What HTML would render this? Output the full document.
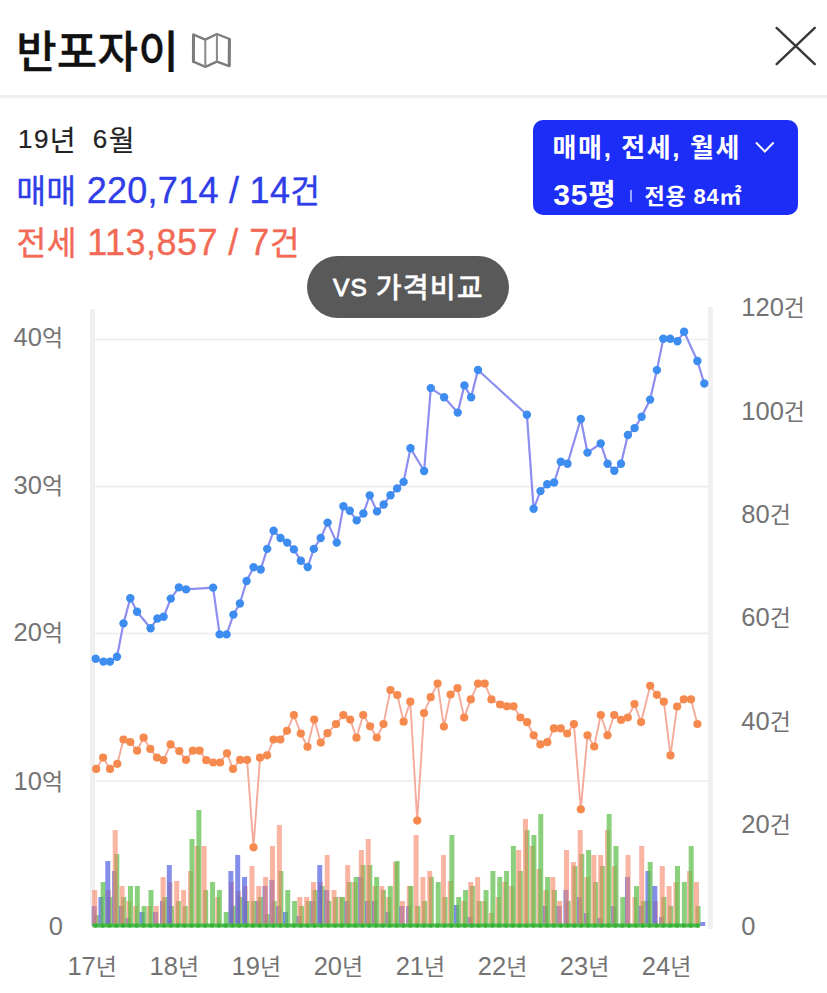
<!DOCTYPE html>
<html lang="ko"><head><meta charset="utf-8"><title>반포자이</title>
<style>
html,body{margin:0;padding:0;background:#fff;}
body{width:827px;height:993px;overflow:hidden;position:relative;font-family:"Liberation Sans","Noto Sans CJK KR",sans-serif;}
.a{position:absolute;white-space:nowrap;}
.sep{left:0;top:94.5px;width:827px;height:3px;background:#efefef;}
.box{left:532.5px;top:120px;width:265.8px;height:95.3px;border-radius:10px;background:#1c2df7;}
.bsep{left:630px;top:189.5px;width:2px;height:12px;background:#9aa3ff;}
.pill{left:307.2px;top:256px;width:202px;height:62.3px;border-radius:31px;background:#595959;}
.yl{position:absolute;right:764px;font-size:25.5px;line-height:24px;color:#737373;white-space:nowrap;-webkit-text-stroke:0px #737373;}
.yr{position:absolute;left:741.3px;font-size:25.5px;line-height:24px;color:#737373;white-space:nowrap;-webkit-text-stroke:0px #737373;}
.xl{position:absolute;top:954px;width:80px;text-align:center;font-size:25.5px;line-height:24px;color:#737373;white-space:nowrap;-webkit-text-stroke:0px #737373;}
svg{position:absolute;left:0;top:0;}
.h{font-size:0.9em;}
</style></head><body>
<div class="a" style="left:16.20px;top:21.60px;font-size:44px;line-height:55px;color:#111;font-weight:500;letter-spacing:0.20px;word-spacing:0.00px;font-family:'Noto Sans CJK KR','Liberation Sans',sans-serif;-webkit-text-stroke:0.3px #111;">반포자이</div>
<svg width="827" height="110" viewBox="0 0 827 110">
<path d="M193.6 34.6 L205.3 39.6 L216.9 34 L229.5 39 L229.2 66.2 L216.9 61.6 L205.3 66.9 L193.3 61.6 Z" fill="none" stroke="#7c7c7c" stroke-width="2.3" stroke-linejoin="round"/>
<path d="M193.5 35 L193.4 61.4 M229.4 39.5 L229.2 65.8" fill="none" stroke="#7c7c7c" stroke-width="3" stroke-linecap="round"/>
<path d="M205.3 39.6 L205.3 66.9 M216.9 34 L216.9 61.6" fill="none" stroke="#8a8a8a" stroke-width="2"/>
<path d="M776.6 27.9 L814.8 64.1 M814.8 27.9 L776.6 64.1" stroke="#383838" stroke-width="2.4" stroke-linecap="round" fill="none"/>
</svg>
<div class="a sep"></div>
<div class="a" style="left:18.00px;top:123.00px;font-size:26px;line-height:32px;color:#222;font-weight:400;letter-spacing:1.44px;word-spacing:7.00px;font-family:'Liberation Sans','Noto Sans CJK KR',sans-serif;-webkit-text-stroke:0.2px #222;">19<span style="font-size:28.08px;position:relative;top:3.3px">년</span> 6<span style="font-size:28.08px;position:relative;top:3.3px">월</span></div>
<div class="a" style="left:16.20px;top:168.20px;font-size:36px;line-height:45px;color:#2f3de8;font-weight:400;letter-spacing:0.28px;word-spacing:0.00px;font-family:'Liberation Sans','Noto Sans CJK KR',sans-serif;-webkit-text-stroke:0.35px #2f3de8;"><span style="font-size:32.40px;position:relative;top:0px">매매</span> 220,714 / 14<span style="font-size:32.40px;position:relative;top:0px">건</span></div>
<div class="a" style="left:16.40px;top:219.80px;font-size:36px;line-height:45px;color:#f26a55;font-weight:400;letter-spacing:0.44px;word-spacing:0.00px;font-family:'Liberation Sans','Noto Sans CJK KR',sans-serif;-webkit-text-stroke:0.35px #f26a55;"><span style="font-size:32.40px;position:relative;top:0px">전세</span> 113,857 / 7<span style="font-size:32.40px;position:relative;top:0px">건</span></div>
<div class="a box"></div>
<div class="a" style="left:552.60px;top:132.20px;font-size:26px;line-height:32px;color:#fff;font-weight:700;letter-spacing:1.60px;word-spacing:0.00px;font-family:'Liberation Sans','Noto Sans CJK KR',sans-serif;">매매, 전세, 월세</div>
<svg width="827" height="300" viewBox="0 0 827 300"><path d="M756 142.5 L764.8 151.5 L773.6 142.5" stroke="#fff" stroke-width="2" fill="none"/></svg>
<div class="a" style="left:553.20px;top:175.60px;font-size:30px;line-height:38px;color:#fff;font-weight:700;letter-spacing:0.80px;word-spacing:0.00px;font-family:'Liberation Sans','Noto Sans CJK KR',sans-serif;">35평</div>
<div class="a bsep"></div>
<div class="a" style="left:644.40px;top:183.20px;font-size:22px;line-height:28px;color:#fff;font-weight:700;letter-spacing:0.80px;word-spacing:0.00px;font-family:'Liberation Sans','Noto Sans CJK KR',sans-serif;">전용 84㎡</div>
<svg width="827" height="993" viewBox="0 0 827 993">
<rect x="90" y="309" width="5" height="597" fill="#f0f0f0"/><rect x="708" y="307" width="5" height="622" fill="#f0f0f0"/><rect x="95" y="338.5" width="613.5" height="2" fill="#f0f0f0"/><rect x="95" y="485.5" width="613.5" height="2" fill="#f0f0f0"/><rect x="95" y="632.5" width="613.5" height="2" fill="#f0f0f0"/><rect x="95" y="780.0" width="613.5" height="2" fill="#f0f0f0"/><rect x="93.80" y="915" width="5.0" height="11" fill="rgb(90,190,70)" fill-opacity="0.7"/><rect x="91.60" y="906" width="5.0" height="20" fill="rgb(80,95,225)" fill-opacity="0.7"/><rect x="92.20" y="890" width="5.0" height="36" fill="rgb(245,130,100)" fill-opacity="0.6"/><rect x="98.44" y="897" width="5.0" height="29" fill="rgb(80,95,225)" fill-opacity="0.7"/><rect x="100.64" y="882" width="5.0" height="44" fill="rgb(90,190,70)" fill-opacity="0.7"/><rect x="107.48" y="897" width="5.0" height="29" fill="rgb(90,190,70)" fill-opacity="0.7"/><rect x="105.88" y="890" width="5.0" height="36" fill="rgb(245,130,100)" fill-opacity="0.6"/><rect x="105.28" y="861" width="5.0" height="65" fill="rgb(80,95,225)" fill-opacity="0.7"/><rect x="112.11" y="871" width="5.0" height="55" fill="rgb(80,95,225)" fill-opacity="0.7"/><rect x="114.31" y="854" width="5.0" height="72" fill="rgb(90,190,70)" fill-opacity="0.7"/><rect x="112.71" y="830" width="5.0" height="96" fill="rgb(245,130,100)" fill-opacity="0.6"/><rect x="118.95" y="906" width="5.0" height="20" fill="rgb(80,95,225)" fill-opacity="0.7"/><rect x="121.15" y="897" width="5.0" height="29" fill="rgb(90,190,70)" fill-opacity="0.7"/><rect x="119.55" y="886" width="5.0" height="40" fill="rgb(245,130,100)" fill-opacity="0.6"/><rect x="125.79" y="918" width="5.0" height="8" fill="rgb(80,95,225)" fill-opacity="0.7"/><rect x="126.39" y="901" width="5.0" height="25" fill="rgb(245,130,100)" fill-opacity="0.6"/><rect x="127.99" y="886" width="5.0" height="40" fill="rgb(90,190,70)" fill-opacity="0.7"/><rect x="133.23" y="906" width="5.0" height="20" fill="rgb(245,130,100)" fill-opacity="0.6"/><rect x="134.83" y="886" width="5.0" height="40" fill="rgb(90,190,70)" fill-opacity="0.7"/><rect x="139.47" y="912" width="5.0" height="14" fill="rgb(80,95,225)" fill-opacity="0.7"/><rect x="141.67" y="906" width="5.0" height="20" fill="rgb(90,190,70)" fill-opacity="0.7"/><rect x="146.90" y="906" width="5.0" height="20" fill="rgb(245,130,100)" fill-opacity="0.6"/><rect x="148.50" y="890" width="5.0" height="36" fill="rgb(90,190,70)" fill-opacity="0.7"/><rect x="153.14" y="912" width="5.0" height="14" fill="rgb(80,95,225)" fill-opacity="0.7"/><rect x="153.74" y="906" width="5.0" height="20" fill="rgb(245,130,100)" fill-opacity="0.6"/><rect x="159.98" y="901" width="5.0" height="25" fill="rgb(80,95,225)" fill-opacity="0.7"/><rect x="162.18" y="897" width="5.0" height="29" fill="rgb(90,190,70)" fill-opacity="0.7"/><rect x="160.58" y="877" width="5.0" height="49" fill="rgb(245,130,100)" fill-opacity="0.6"/><rect x="169.02" y="906" width="5.0" height="20" fill="rgb(90,190,70)" fill-opacity="0.7"/><rect x="167.42" y="882" width="5.0" height="44" fill="rgb(245,130,100)" fill-opacity="0.6"/><rect x="166.82" y="865" width="5.0" height="61" fill="rgb(80,95,225)" fill-opacity="0.7"/><rect x="175.86" y="901" width="5.0" height="25" fill="rgb(90,190,70)" fill-opacity="0.7"/><rect x="174.26" y="881" width="5.0" height="45" fill="rgb(245,130,100)" fill-opacity="0.6"/><rect x="182.69" y="906" width="5.0" height="20" fill="rgb(90,190,70)" fill-opacity="0.7"/><rect x="181.09" y="890" width="5.0" height="36" fill="rgb(245,130,100)" fill-opacity="0.6"/><rect x="187.93" y="871" width="5.0" height="55" fill="rgb(245,130,100)" fill-opacity="0.6"/><rect x="189.53" y="839" width="5.0" height="87" fill="rgb(90,190,70)" fill-opacity="0.7"/><rect x="194.77" y="846" width="5.0" height="80" fill="rgb(245,130,100)" fill-opacity="0.6"/><rect x="196.37" y="810" width="5.0" height="116" fill="rgb(90,190,70)" fill-opacity="0.7"/><rect x="203.21" y="890" width="5.0" height="36" fill="rgb(90,190,70)" fill-opacity="0.7"/><rect x="201.61" y="846" width="5.0" height="80" fill="rgb(245,130,100)" fill-opacity="0.6"/><rect x="210.05" y="882" width="5.0" height="44" fill="rgb(90,190,70)" fill-opacity="0.7"/><rect x="215.28" y="897" width="5.0" height="29" fill="rgb(245,130,100)" fill-opacity="0.6"/><rect x="216.88" y="890" width="5.0" height="36" fill="rgb(90,190,70)" fill-opacity="0.7"/><rect x="223.72" y="912" width="5.0" height="14" fill="rgb(90,190,70)" fill-opacity="0.7"/><rect x="230.56" y="906" width="5.0" height="20" fill="rgb(90,190,70)" fill-opacity="0.7"/><rect x="228.96" y="882" width="5.0" height="44" fill="rgb(245,130,100)" fill-opacity="0.6"/><rect x="228.36" y="871" width="5.0" height="55" fill="rgb(80,95,225)" fill-opacity="0.7"/><rect x="237.40" y="897" width="5.0" height="29" fill="rgb(90,190,70)" fill-opacity="0.7"/><rect x="235.80" y="891" width="5.0" height="35" fill="rgb(245,130,100)" fill-opacity="0.6"/><rect x="235.20" y="855" width="5.0" height="71" fill="rgb(80,95,225)" fill-opacity="0.7"/><rect x="244.24" y="901" width="5.0" height="25" fill="rgb(90,190,70)" fill-opacity="0.7"/><rect x="242.64" y="886" width="5.0" height="40" fill="rgb(245,130,100)" fill-opacity="0.6"/><rect x="242.04" y="877" width="5.0" height="49" fill="rgb(80,95,225)" fill-opacity="0.7"/><rect x="251.07" y="901" width="5.0" height="25" fill="rgb(90,190,70)" fill-opacity="0.7"/><rect x="249.47" y="866" width="5.0" height="60" fill="rgb(245,130,100)" fill-opacity="0.6"/><rect x="255.71" y="901" width="5.0" height="25" fill="rgb(80,95,225)" fill-opacity="0.7"/><rect x="257.91" y="897" width="5.0" height="29" fill="rgb(90,190,70)" fill-opacity="0.7"/><rect x="256.31" y="886" width="5.0" height="40" fill="rgb(245,130,100)" fill-opacity="0.6"/><rect x="264.75" y="914" width="5.0" height="12" fill="rgb(90,190,70)" fill-opacity="0.7"/><rect x="262.55" y="886" width="5.0" height="40" fill="rgb(80,95,225)" fill-opacity="0.7"/><rect x="263.15" y="877" width="5.0" height="49" fill="rgb(245,130,100)" fill-opacity="0.6"/><rect x="271.59" y="901" width="5.0" height="25" fill="rgb(90,190,70)" fill-opacity="0.7"/><rect x="269.39" y="880" width="5.0" height="46" fill="rgb(80,95,225)" fill-opacity="0.7"/><rect x="269.99" y="846" width="5.0" height="80" fill="rgb(245,130,100)" fill-opacity="0.6"/><rect x="276.23" y="906" width="5.0" height="20" fill="rgb(80,95,225)" fill-opacity="0.7"/><rect x="278.43" y="871" width="5.0" height="55" fill="rgb(90,190,70)" fill-opacity="0.7"/><rect x="276.83" y="825" width="5.0" height="101" fill="rgb(245,130,100)" fill-opacity="0.6"/><rect x="283.06" y="912" width="5.0" height="14" fill="rgb(80,95,225)" fill-opacity="0.7"/><rect x="285.26" y="890" width="5.0" height="36" fill="rgb(90,190,70)" fill-opacity="0.7"/><rect x="292.10" y="901" width="5.0" height="25" fill="rgb(90,190,70)" fill-opacity="0.7"/><rect x="296.74" y="916" width="5.0" height="10" fill="rgb(80,95,225)" fill-opacity="0.7"/><rect x="298.94" y="906" width="5.0" height="20" fill="rgb(90,190,70)" fill-opacity="0.7"/><rect x="297.34" y="897" width="5.0" height="29" fill="rgb(245,130,100)" fill-opacity="0.6"/><rect x="305.78" y="901" width="5.0" height="25" fill="rgb(90,190,70)" fill-opacity="0.7"/><rect x="304.18" y="897" width="5.0" height="29" fill="rgb(245,130,100)" fill-opacity="0.6"/><rect x="310.42" y="901" width="5.0" height="25" fill="rgb(80,95,225)" fill-opacity="0.7"/><rect x="312.62" y="890" width="5.0" height="36" fill="rgb(90,190,70)" fill-opacity="0.7"/><rect x="311.02" y="882" width="5.0" height="44" fill="rgb(245,130,100)" fill-opacity="0.6"/><rect x="319.45" y="886" width="5.0" height="40" fill="rgb(90,190,70)" fill-opacity="0.7"/><rect x="317.85" y="882" width="5.0" height="44" fill="rgb(245,130,100)" fill-opacity="0.6"/><rect x="317.25" y="865" width="5.0" height="61" fill="rgb(80,95,225)" fill-opacity="0.7"/><rect x="326.29" y="901" width="5.0" height="25" fill="rgb(90,190,70)" fill-opacity="0.7"/><rect x="324.09" y="890" width="5.0" height="36" fill="rgb(80,95,225)" fill-opacity="0.7"/><rect x="324.69" y="855" width="5.0" height="71" fill="rgb(245,130,100)" fill-opacity="0.6"/><rect x="333.13" y="897" width="5.0" height="29" fill="rgb(90,190,70)" fill-opacity="0.7"/><rect x="331.53" y="890" width="5.0" height="36" fill="rgb(245,130,100)" fill-opacity="0.6"/><rect x="338.37" y="897" width="5.0" height="29" fill="rgb(245,130,100)" fill-opacity="0.6"/><rect x="339.97" y="897" width="5.0" height="29" fill="rgb(90,190,70)" fill-opacity="0.7"/><rect x="344.61" y="901" width="5.0" height="25" fill="rgb(80,95,225)" fill-opacity="0.7"/><rect x="346.81" y="882" width="5.0" height="44" fill="rgb(90,190,70)" fill-opacity="0.7"/><rect x="345.21" y="865" width="5.0" height="61" fill="rgb(245,130,100)" fill-opacity="0.6"/><rect x="352.04" y="882" width="5.0" height="44" fill="rgb(245,130,100)" fill-opacity="0.6"/><rect x="353.64" y="877" width="5.0" height="49" fill="rgb(90,190,70)" fill-opacity="0.7"/><rect x="358.28" y="877" width="5.0" height="49" fill="rgb(80,95,225)" fill-opacity="0.7"/><rect x="360.48" y="865" width="5.0" height="61" fill="rgb(90,190,70)" fill-opacity="0.7"/><rect x="358.88" y="850" width="5.0" height="76" fill="rgb(245,130,100)" fill-opacity="0.6"/><rect x="365.12" y="901" width="5.0" height="25" fill="rgb(80,95,225)" fill-opacity="0.7"/><rect x="367.32" y="865" width="5.0" height="61" fill="rgb(90,190,70)" fill-opacity="0.7"/><rect x="365.72" y="839" width="5.0" height="87" fill="rgb(245,130,100)" fill-opacity="0.6"/><rect x="371.96" y="901" width="5.0" height="25" fill="rgb(80,95,225)" fill-opacity="0.7"/><rect x="372.56" y="886" width="5.0" height="40" fill="rgb(245,130,100)" fill-opacity="0.6"/><rect x="374.16" y="877" width="5.0" height="49" fill="rgb(90,190,70)" fill-opacity="0.7"/><rect x="381.00" y="890" width="5.0" height="36" fill="rgb(90,190,70)" fill-opacity="0.7"/><rect x="379.40" y="886" width="5.0" height="40" fill="rgb(245,130,100)" fill-opacity="0.6"/><rect x="385.63" y="912" width="5.0" height="14" fill="rgb(80,95,225)" fill-opacity="0.7"/><rect x="386.23" y="897" width="5.0" height="29" fill="rgb(245,130,100)" fill-opacity="0.6"/><rect x="387.83" y="886" width="5.0" height="40" fill="rgb(90,190,70)" fill-opacity="0.7"/><rect x="393.07" y="862" width="5.0" height="64" fill="rgb(245,130,100)" fill-opacity="0.6"/><rect x="394.67" y="861" width="5.0" height="65" fill="rgb(90,190,70)" fill-opacity="0.7"/><rect x="399.31" y="906" width="5.0" height="20" fill="rgb(80,95,225)" fill-opacity="0.7"/><rect x="399.91" y="901" width="5.0" height="25" fill="rgb(245,130,100)" fill-opacity="0.6"/><rect x="406.15" y="906" width="5.0" height="20" fill="rgb(80,95,225)" fill-opacity="0.7"/><rect x="406.75" y="886" width="5.0" height="40" fill="rgb(245,130,100)" fill-opacity="0.6"/><rect x="408.35" y="886" width="5.0" height="40" fill="rgb(90,190,70)" fill-opacity="0.7"/><rect x="415.19" y="906" width="5.0" height="20" fill="rgb(90,190,70)" fill-opacity="0.7"/><rect x="413.59" y="835" width="5.0" height="91" fill="rgb(245,130,100)" fill-opacity="0.6"/><rect x="422.02" y="901" width="5.0" height="25" fill="rgb(90,190,70)" fill-opacity="0.7"/><rect x="420.42" y="877" width="5.0" height="49" fill="rgb(245,130,100)" fill-opacity="0.6"/><rect x="428.86" y="877" width="5.0" height="49" fill="rgb(90,190,70)" fill-opacity="0.7"/><rect x="427.26" y="871" width="5.0" height="55" fill="rgb(245,130,100)" fill-opacity="0.6"/><rect x="435.70" y="882" width="5.0" height="44" fill="rgb(90,190,70)" fill-opacity="0.7"/><rect x="442.54" y="897" width="5.0" height="29" fill="rgb(90,190,70)" fill-opacity="0.7"/><rect x="440.94" y="855" width="5.0" height="71" fill="rgb(245,130,100)" fill-opacity="0.6"/><rect x="447.78" y="881" width="5.0" height="45" fill="rgb(245,130,100)" fill-opacity="0.6"/><rect x="449.38" y="835" width="5.0" height="91" fill="rgb(90,190,70)" fill-opacity="0.7"/><rect x="454.01" y="905" width="5.0" height="21" fill="rgb(80,95,225)" fill-opacity="0.7"/><rect x="456.21" y="897" width="5.0" height="29" fill="rgb(90,190,70)" fill-opacity="0.7"/><rect x="461.45" y="901" width="5.0" height="25" fill="rgb(245,130,100)" fill-opacity="0.6"/><rect x="463.05" y="890" width="5.0" height="36" fill="rgb(90,190,70)" fill-opacity="0.7"/><rect x="467.69" y="917" width="5.0" height="9" fill="rgb(80,95,225)" fill-opacity="0.7"/><rect x="469.89" y="886" width="5.0" height="40" fill="rgb(90,190,70)" fill-opacity="0.7"/><rect x="468.29" y="882" width="5.0" height="44" fill="rgb(245,130,100)" fill-opacity="0.6"/><rect x="476.73" y="901" width="5.0" height="25" fill="rgb(90,190,70)" fill-opacity="0.7"/><rect x="475.13" y="877" width="5.0" height="49" fill="rgb(245,130,100)" fill-opacity="0.6"/><rect x="481.97" y="901" width="5.0" height="25" fill="rgb(245,130,100)" fill-opacity="0.6"/><rect x="483.57" y="890" width="5.0" height="36" fill="rgb(90,190,70)" fill-opacity="0.7"/><rect x="488.80" y="913" width="5.0" height="13" fill="rgb(245,130,100)" fill-opacity="0.6"/><rect x="490.40" y="871" width="5.0" height="55" fill="rgb(90,190,70)" fill-opacity="0.7"/><rect x="495.64" y="897" width="5.0" height="29" fill="rgb(245,130,100)" fill-opacity="0.6"/><rect x="497.24" y="877" width="5.0" height="49" fill="rgb(90,190,70)" fill-opacity="0.7"/><rect x="502.48" y="882" width="5.0" height="44" fill="rgb(245,130,100)" fill-opacity="0.6"/><rect x="504.08" y="871" width="5.0" height="55" fill="rgb(90,190,70)" fill-opacity="0.7"/><rect x="509.32" y="886" width="5.0" height="40" fill="rgb(245,130,100)" fill-opacity="0.6"/><rect x="510.92" y="846" width="5.0" height="80" fill="rgb(90,190,70)" fill-opacity="0.7"/><rect x="517.76" y="871" width="5.0" height="55" fill="rgb(90,190,70)" fill-opacity="0.7"/><rect x="516.16" y="850" width="5.0" height="76" fill="rgb(245,130,100)" fill-opacity="0.6"/><rect x="524.59" y="830" width="5.0" height="96" fill="rgb(90,190,70)" fill-opacity="0.7"/><rect x="522.99" y="819" width="5.0" height="107" fill="rgb(245,130,100)" fill-opacity="0.6"/><rect x="529.83" y="846" width="5.0" height="80" fill="rgb(245,130,100)" fill-opacity="0.6"/><rect x="531.43" y="835" width="5.0" height="91" fill="rgb(90,190,70)" fill-opacity="0.7"/><rect x="536.67" y="869" width="5.0" height="57" fill="rgb(245,130,100)" fill-opacity="0.6"/><rect x="538.27" y="814" width="5.0" height="112" fill="rgb(90,190,70)" fill-opacity="0.7"/><rect x="542.91" y="906" width="5.0" height="20" fill="rgb(80,95,225)" fill-opacity="0.7"/><rect x="543.51" y="890" width="5.0" height="36" fill="rgb(245,130,100)" fill-opacity="0.6"/><rect x="545.11" y="877" width="5.0" height="49" fill="rgb(90,190,70)" fill-opacity="0.7"/><rect x="551.95" y="890" width="5.0" height="36" fill="rgb(90,190,70)" fill-opacity="0.7"/><rect x="550.35" y="877" width="5.0" height="49" fill="rgb(245,130,100)" fill-opacity="0.6"/><rect x="556.58" y="906" width="5.0" height="20" fill="rgb(80,95,225)" fill-opacity="0.7"/><rect x="557.18" y="901" width="5.0" height="25" fill="rgb(245,130,100)" fill-opacity="0.6"/><rect x="565.62" y="901" width="5.0" height="25" fill="rgb(90,190,70)" fill-opacity="0.7"/><rect x="563.42" y="890" width="5.0" height="36" fill="rgb(80,95,225)" fill-opacity="0.7"/><rect x="564.02" y="850" width="5.0" height="76" fill="rgb(245,130,100)" fill-opacity="0.6"/><rect x="572.46" y="866" width="5.0" height="60" fill="rgb(90,190,70)" fill-opacity="0.7"/><rect x="570.86" y="862" width="5.0" height="64" fill="rgb(245,130,100)" fill-opacity="0.6"/><rect x="577.10" y="897" width="5.0" height="29" fill="rgb(80,95,225)" fill-opacity="0.7"/><rect x="579.30" y="854" width="5.0" height="72" fill="rgb(90,190,70)" fill-opacity="0.7"/><rect x="577.70" y="830" width="5.0" height="96" fill="rgb(245,130,100)" fill-opacity="0.6"/><rect x="583.94" y="913" width="5.0" height="13" fill="rgb(80,95,225)" fill-opacity="0.7"/><rect x="584.54" y="877" width="5.0" height="49" fill="rgb(245,130,100)" fill-opacity="0.6"/><rect x="586.14" y="850" width="5.0" height="76" fill="rgb(90,190,70)" fill-opacity="0.7"/><rect x="592.97" y="882" width="5.0" height="44" fill="rgb(90,190,70)" fill-opacity="0.7"/><rect x="591.37" y="855" width="5.0" height="71" fill="rgb(245,130,100)" fill-opacity="0.6"/><rect x="597.61" y="918" width="5.0" height="8" fill="rgb(80,95,225)" fill-opacity="0.7"/><rect x="599.81" y="866" width="5.0" height="60" fill="rgb(90,190,70)" fill-opacity="0.7"/><rect x="598.21" y="855" width="5.0" height="71" fill="rgb(245,130,100)" fill-opacity="0.6"/><rect x="605.05" y="830" width="5.0" height="96" fill="rgb(245,130,100)" fill-opacity="0.6"/><rect x="606.65" y="814" width="5.0" height="112" fill="rgb(90,190,70)" fill-opacity="0.7"/><rect x="611.29" y="906" width="5.0" height="20" fill="rgb(80,95,225)" fill-opacity="0.7"/><rect x="611.89" y="866" width="5.0" height="60" fill="rgb(245,130,100)" fill-opacity="0.6"/><rect x="613.49" y="846" width="5.0" height="80" fill="rgb(90,190,70)" fill-opacity="0.7"/><rect x="620.33" y="897" width="5.0" height="29" fill="rgb(90,190,70)" fill-opacity="0.7"/><rect x="624.96" y="877" width="5.0" height="49" fill="rgb(80,95,225)" fill-opacity="0.7"/><rect x="625.56" y="855" width="5.0" height="71" fill="rgb(245,130,100)" fill-opacity="0.6"/><rect x="632.40" y="897" width="5.0" height="29" fill="rgb(245,130,100)" fill-opacity="0.6"/><rect x="634.00" y="886" width="5.0" height="40" fill="rgb(90,190,70)" fill-opacity="0.7"/><rect x="638.64" y="906" width="5.0" height="20" fill="rgb(80,95,225)" fill-opacity="0.7"/><rect x="640.84" y="901" width="5.0" height="25" fill="rgb(90,190,70)" fill-opacity="0.7"/><rect x="639.24" y="846" width="5.0" height="80" fill="rgb(245,130,100)" fill-opacity="0.6"/><rect x="646.08" y="901" width="5.0" height="25" fill="rgb(245,130,100)" fill-opacity="0.6"/><rect x="645.48" y="871" width="5.0" height="55" fill="rgb(80,95,225)" fill-opacity="0.7"/><rect x="647.68" y="862" width="5.0" height="64" fill="rgb(90,190,70)" fill-opacity="0.7"/><rect x="652.92" y="901" width="5.0" height="25" fill="rgb(245,130,100)" fill-opacity="0.6"/><rect x="652.32" y="886" width="5.0" height="40" fill="rgb(80,95,225)" fill-opacity="0.7"/><rect x="659.15" y="917" width="5.0" height="9" fill="rgb(80,95,225)" fill-opacity="0.7"/><rect x="661.35" y="897" width="5.0" height="29" fill="rgb(90,190,70)" fill-opacity="0.7"/><rect x="659.75" y="866" width="5.0" height="60" fill="rgb(245,130,100)" fill-opacity="0.6"/><rect x="668.19" y="906" width="5.0" height="20" fill="rgb(90,190,70)" fill-opacity="0.7"/><rect x="666.59" y="886" width="5.0" height="40" fill="rgb(245,130,100)" fill-opacity="0.6"/><rect x="673.43" y="882" width="5.0" height="44" fill="rgb(245,130,100)" fill-opacity="0.6"/><rect x="675.03" y="866" width="5.0" height="60" fill="rgb(90,190,70)" fill-opacity="0.7"/><rect x="681.87" y="882" width="5.0" height="44" fill="rgb(90,190,70)" fill-opacity="0.7"/><rect x="687.11" y="871" width="5.0" height="55" fill="rgb(245,130,100)" fill-opacity="0.6"/><rect x="688.71" y="846" width="5.0" height="80" fill="rgb(90,190,70)" fill-opacity="0.7"/><rect x="695.54" y="906" width="5.0" height="20" fill="rgb(90,190,70)" fill-opacity="0.7"/><rect x="693.94" y="882" width="5.0" height="44" fill="rgb(245,130,100)" fill-opacity="0.6"/><rect x="700.18" y="922" width="5.0" height="4" fill="rgb(80,95,225)" fill-opacity="0.7"/><rect x="92.5" y="923.5" width="607.5" height="4" fill="#4cbc4c"/><circle cx="95.70" cy="925.7" r="2.1" fill="#38b038"/><circle cx="102.54" cy="925.7" r="2.1" fill="#38b038"/><circle cx="109.38" cy="925.7" r="2.1" fill="#38b038"/><circle cx="116.21" cy="925.7" r="2.1" fill="#38b038"/><circle cx="123.05" cy="925.7" r="2.1" fill="#38b038"/><circle cx="129.89" cy="925.7" r="2.1" fill="#38b038"/><circle cx="136.73" cy="925.7" r="2.1" fill="#38b038"/><circle cx="143.57" cy="925.7" r="2.1" fill="#38b038"/><circle cx="150.40" cy="925.7" r="2.1" fill="#38b038"/><circle cx="157.24" cy="925.7" r="2.1" fill="#38b038"/><circle cx="164.08" cy="925.7" r="2.1" fill="#38b038"/><circle cx="170.92" cy="925.7" r="2.1" fill="#38b038"/><circle cx="177.76" cy="925.7" r="2.1" fill="#38b038"/><circle cx="184.59" cy="925.7" r="2.1" fill="#38b038"/><circle cx="191.43" cy="925.7" r="2.1" fill="#38b038"/><circle cx="198.27" cy="925.7" r="2.1" fill="#38b038"/><circle cx="205.11" cy="925.7" r="2.1" fill="#38b038"/><circle cx="211.95" cy="925.7" r="2.1" fill="#38b038"/><circle cx="218.78" cy="925.7" r="2.1" fill="#38b038"/><circle cx="225.62" cy="925.7" r="2.1" fill="#38b038"/><circle cx="232.46" cy="925.7" r="2.1" fill="#38b038"/><circle cx="239.30" cy="925.7" r="2.1" fill="#38b038"/><circle cx="246.14" cy="925.7" r="2.1" fill="#38b038"/><circle cx="252.97" cy="925.7" r="2.1" fill="#38b038"/><circle cx="259.81" cy="925.7" r="2.1" fill="#38b038"/><circle cx="266.65" cy="925.7" r="2.1" fill="#38b038"/><circle cx="273.49" cy="925.7" r="2.1" fill="#38b038"/><circle cx="280.33" cy="925.7" r="2.1" fill="#38b038"/><circle cx="287.16" cy="925.7" r="2.1" fill="#38b038"/><circle cx="294.00" cy="925.7" r="2.1" fill="#38b038"/><circle cx="300.84" cy="925.7" r="2.1" fill="#38b038"/><circle cx="307.68" cy="925.7" r="2.1" fill="#38b038"/><circle cx="314.52" cy="925.7" r="2.1" fill="#38b038"/><circle cx="321.35" cy="925.7" r="2.1" fill="#38b038"/><circle cx="328.19" cy="925.7" r="2.1" fill="#38b038"/><circle cx="335.03" cy="925.7" r="2.1" fill="#38b038"/><circle cx="341.87" cy="925.7" r="2.1" fill="#38b038"/><circle cx="348.71" cy="925.7" r="2.1" fill="#38b038"/><circle cx="355.54" cy="925.7" r="2.1" fill="#38b038"/><circle cx="362.38" cy="925.7" r="2.1" fill="#38b038"/><circle cx="369.22" cy="925.7" r="2.1" fill="#38b038"/><circle cx="376.06" cy="925.7" r="2.1" fill="#38b038"/><circle cx="382.90" cy="925.7" r="2.1" fill="#38b038"/><circle cx="389.73" cy="925.7" r="2.1" fill="#38b038"/><circle cx="396.57" cy="925.7" r="2.1" fill="#38b038"/><circle cx="403.41" cy="925.7" r="2.1" fill="#38b038"/><circle cx="410.25" cy="925.7" r="2.1" fill="#38b038"/><circle cx="417.09" cy="925.7" r="2.1" fill="#38b038"/><circle cx="423.92" cy="925.7" r="2.1" fill="#38b038"/><circle cx="430.76" cy="925.7" r="2.1" fill="#38b038"/><circle cx="437.60" cy="925.7" r="2.1" fill="#38b038"/><circle cx="444.44" cy="925.7" r="2.1" fill="#38b038"/><circle cx="451.28" cy="925.7" r="2.1" fill="#38b038"/><circle cx="458.11" cy="925.7" r="2.1" fill="#38b038"/><circle cx="464.95" cy="925.7" r="2.1" fill="#38b038"/><circle cx="471.79" cy="925.7" r="2.1" fill="#38b038"/><circle cx="478.63" cy="925.7" r="2.1" fill="#38b038"/><circle cx="485.47" cy="925.7" r="2.1" fill="#38b038"/><circle cx="492.30" cy="925.7" r="2.1" fill="#38b038"/><circle cx="499.14" cy="925.7" r="2.1" fill="#38b038"/><circle cx="505.98" cy="925.7" r="2.1" fill="#38b038"/><circle cx="512.82" cy="925.7" r="2.1" fill="#38b038"/><circle cx="519.66" cy="925.7" r="2.1" fill="#38b038"/><circle cx="526.49" cy="925.7" r="2.1" fill="#38b038"/><circle cx="533.33" cy="925.7" r="2.1" fill="#38b038"/><circle cx="540.17" cy="925.7" r="2.1" fill="#38b038"/><circle cx="547.01" cy="925.7" r="2.1" fill="#38b038"/><circle cx="553.85" cy="925.7" r="2.1" fill="#38b038"/><circle cx="560.68" cy="925.7" r="2.1" fill="#38b038"/><circle cx="567.52" cy="925.7" r="2.1" fill="#38b038"/><circle cx="574.36" cy="925.7" r="2.1" fill="#38b038"/><circle cx="581.20" cy="925.7" r="2.1" fill="#38b038"/><circle cx="588.04" cy="925.7" r="2.1" fill="#38b038"/><circle cx="594.87" cy="925.7" r="2.1" fill="#38b038"/><circle cx="601.71" cy="925.7" r="2.1" fill="#38b038"/><circle cx="608.55" cy="925.7" r="2.1" fill="#38b038"/><circle cx="615.39" cy="925.7" r="2.1" fill="#38b038"/><circle cx="622.23" cy="925.7" r="2.1" fill="#38b038"/><circle cx="629.06" cy="925.7" r="2.1" fill="#38b038"/><circle cx="635.90" cy="925.7" r="2.1" fill="#38b038"/><circle cx="642.74" cy="925.7" r="2.1" fill="#38b038"/><circle cx="649.58" cy="925.7" r="2.1" fill="#38b038"/><circle cx="656.42" cy="925.7" r="2.1" fill="#38b038"/><circle cx="663.25" cy="925.7" r="2.1" fill="#38b038"/><circle cx="670.09" cy="925.7" r="2.1" fill="#38b038"/><circle cx="676.93" cy="925.7" r="2.1" fill="#38b038"/><circle cx="683.77" cy="925.7" r="2.1" fill="#38b038"/><circle cx="690.61" cy="925.7" r="2.1" fill="#38b038"/><circle cx="697.44" cy="925.7" r="2.1" fill="#38b038"/><polyline points="96.2,768.9 103.1,757.6 110,768.9 117.3,763.8 123.5,739.5 130.3,742 137.1,750.7 143.6,737.7 150.3,748.9 157,757.6 163.5,760.2 170.6,744.4 179.3,751.1 186,759.8 192.9,750.7 199.6,750.7 206.2,760.2 213.2,762.5 220.1,762.5 227,753.3 233,768.9 240.1,759.9 247.1,759.9 253.5,847.3 260,757.7 267.1,755.3 273.6,739.5 280.3,739.5 287,730.8 293.9,715.1 300.8,733.6 307.5,746.8 314.2,719.6 320.8,742.6 327.5,733.2 336,724.1 343.3,715.1 350.2,719.6 356.5,737.7 363.2,715.1 370.1,726.3 376.8,737.5 383.5,724.1 390.4,690 397.3,695 403.6,721.7 410.3,701.7 417.2,820.6 424,713 430.7,697.2 437.6,683.6 443.9,726.6 450.6,694.5 457.5,688.1 464.2,717.5 470.8,699.4 478,683.6 484.7,683.6 491.4,699.4 500.1,704.5 506.8,706.3 513.5,706.3 520.4,717.5 527.1,722.2 533.7,735.3 540.4,744.4 547.3,742.2 554,728.4 560.7,728.4 567.2,733.5 573.9,724.1 580.8,809.3 587.5,735.3 594.2,746.5 600.8,715 607.5,735.3 614.2,715 621.1,719.9 627.8,717.5 634.5,704 641.1,722.1 650.2,685.8 656.9,694.8 663.8,701.7 670.5,755.4 677.1,706.5 683.8,699.3 691,699.3 697.4,724" fill="none" stroke="#f4ab9c" stroke-width="1.9" stroke-linejoin="round"/><circle cx="96.2" cy="768.9" r="4.1" fill="#f68a4e"/><circle cx="103.1" cy="757.6" r="4.1" fill="#f68a4e"/><circle cx="110" cy="768.9" r="4.1" fill="#f68a4e"/><circle cx="117.3" cy="763.8" r="4.1" fill="#f68a4e"/><circle cx="123.5" cy="739.5" r="4.1" fill="#f68a4e"/><circle cx="130.3" cy="742" r="4.1" fill="#f68a4e"/><circle cx="137.1" cy="750.7" r="4.1" fill="#f68a4e"/><circle cx="143.6" cy="737.7" r="4.1" fill="#f68a4e"/><circle cx="150.3" cy="748.9" r="4.1" fill="#f68a4e"/><circle cx="157" cy="757.6" r="4.1" fill="#f68a4e"/><circle cx="163.5" cy="760.2" r="4.1" fill="#f68a4e"/><circle cx="170.6" cy="744.4" r="4.1" fill="#f68a4e"/><circle cx="179.3" cy="751.1" r="4.1" fill="#f68a4e"/><circle cx="186" cy="759.8" r="4.1" fill="#f68a4e"/><circle cx="192.9" cy="750.7" r="4.1" fill="#f68a4e"/><circle cx="199.6" cy="750.7" r="4.1" fill="#f68a4e"/><circle cx="206.2" cy="760.2" r="4.1" fill="#f68a4e"/><circle cx="213.2" cy="762.5" r="4.1" fill="#f68a4e"/><circle cx="220.1" cy="762.5" r="4.1" fill="#f68a4e"/><circle cx="227" cy="753.3" r="4.1" fill="#f68a4e"/><circle cx="233" cy="768.9" r="4.1" fill="#f68a4e"/><circle cx="240.1" cy="759.9" r="4.1" fill="#f68a4e"/><circle cx="247.1" cy="759.9" r="4.1" fill="#f68a4e"/><circle cx="253.5" cy="847.3" r="4.1" fill="#f68a4e"/><circle cx="260" cy="757.7" r="4.1" fill="#f68a4e"/><circle cx="267.1" cy="755.3" r="4.1" fill="#f68a4e"/><circle cx="273.6" cy="739.5" r="4.1" fill="#f68a4e"/><circle cx="280.3" cy="739.5" r="4.1" fill="#f68a4e"/><circle cx="287" cy="730.8" r="4.1" fill="#f68a4e"/><circle cx="293.9" cy="715.1" r="4.1" fill="#f68a4e"/><circle cx="300.8" cy="733.6" r="4.1" fill="#f68a4e"/><circle cx="307.5" cy="746.8" r="4.1" fill="#f68a4e"/><circle cx="314.2" cy="719.6" r="4.1" fill="#f68a4e"/><circle cx="320.8" cy="742.6" r="4.1" fill="#f68a4e"/><circle cx="327.5" cy="733.2" r="4.1" fill="#f68a4e"/><circle cx="336" cy="724.1" r="4.1" fill="#f68a4e"/><circle cx="343.3" cy="715.1" r="4.1" fill="#f68a4e"/><circle cx="350.2" cy="719.6" r="4.1" fill="#f68a4e"/><circle cx="356.5" cy="737.7" r="4.1" fill="#f68a4e"/><circle cx="363.2" cy="715.1" r="4.1" fill="#f68a4e"/><circle cx="370.1" cy="726.3" r="4.1" fill="#f68a4e"/><circle cx="376.8" cy="737.5" r="4.1" fill="#f68a4e"/><circle cx="383.5" cy="724.1" r="4.1" fill="#f68a4e"/><circle cx="390.4" cy="690" r="4.1" fill="#f68a4e"/><circle cx="397.3" cy="695" r="4.1" fill="#f68a4e"/><circle cx="403.6" cy="721.7" r="4.1" fill="#f68a4e"/><circle cx="410.3" cy="701.7" r="4.1" fill="#f68a4e"/><circle cx="417.2" cy="820.6" r="4.1" fill="#f68a4e"/><circle cx="424" cy="713" r="4.1" fill="#f68a4e"/><circle cx="430.7" cy="697.2" r="4.1" fill="#f68a4e"/><circle cx="437.6" cy="683.6" r="4.1" fill="#f68a4e"/><circle cx="443.9" cy="726.6" r="4.1" fill="#f68a4e"/><circle cx="450.6" cy="694.5" r="4.1" fill="#f68a4e"/><circle cx="457.5" cy="688.1" r="4.1" fill="#f68a4e"/><circle cx="464.2" cy="717.5" r="4.1" fill="#f68a4e"/><circle cx="470.8" cy="699.4" r="4.1" fill="#f68a4e"/><circle cx="478" cy="683.6" r="4.1" fill="#f68a4e"/><circle cx="484.7" cy="683.6" r="4.1" fill="#f68a4e"/><circle cx="491.4" cy="699.4" r="4.1" fill="#f68a4e"/><circle cx="500.1" cy="704.5" r="4.1" fill="#f68a4e"/><circle cx="506.8" cy="706.3" r="4.1" fill="#f68a4e"/><circle cx="513.5" cy="706.3" r="4.1" fill="#f68a4e"/><circle cx="520.4" cy="717.5" r="4.1" fill="#f68a4e"/><circle cx="527.1" cy="722.2" r="4.1" fill="#f68a4e"/><circle cx="533.7" cy="735.3" r="4.1" fill="#f68a4e"/><circle cx="540.4" cy="744.4" r="4.1" fill="#f68a4e"/><circle cx="547.3" cy="742.2" r="4.1" fill="#f68a4e"/><circle cx="554" cy="728.4" r="4.1" fill="#f68a4e"/><circle cx="560.7" cy="728.4" r="4.1" fill="#f68a4e"/><circle cx="567.2" cy="733.5" r="4.1" fill="#f68a4e"/><circle cx="573.9" cy="724.1" r="4.1" fill="#f68a4e"/><circle cx="580.8" cy="809.3" r="4.1" fill="#f68a4e"/><circle cx="587.5" cy="735.3" r="4.1" fill="#f68a4e"/><circle cx="594.2" cy="746.5" r="4.1" fill="#f68a4e"/><circle cx="600.8" cy="715" r="4.1" fill="#f68a4e"/><circle cx="607.5" cy="735.3" r="4.1" fill="#f68a4e"/><circle cx="614.2" cy="715" r="4.1" fill="#f68a4e"/><circle cx="621.1" cy="719.9" r="4.1" fill="#f68a4e"/><circle cx="627.8" cy="717.5" r="4.1" fill="#f68a4e"/><circle cx="634.5" cy="704" r="4.1" fill="#f68a4e"/><circle cx="641.1" cy="722.1" r="4.1" fill="#f68a4e"/><circle cx="650.2" cy="685.8" r="4.1" fill="#f68a4e"/><circle cx="656.9" cy="694.8" r="4.1" fill="#f68a4e"/><circle cx="663.8" cy="701.7" r="4.1" fill="#f68a4e"/><circle cx="670.5" cy="755.4" r="4.1" fill="#f68a4e"/><circle cx="677.1" cy="706.5" r="4.1" fill="#f68a4e"/><circle cx="683.8" cy="699.3" r="4.1" fill="#f68a4e"/><circle cx="691" cy="699.3" r="4.1" fill="#f68a4e"/><circle cx="697.4" cy="724" r="4.1" fill="#f68a4e"/><polyline points="95.7,658.7 103.5,661.6 110,661.6 117,656.7 123.5,623.4 130.3,598.2 137.1,611.8 150.6,628.2 157.4,618.5 163.6,616.8 170.8,598.6 178.9,587.4 186.1,589.4 213.1,587.6 219.6,634.4 226.6,634.4 233.4,614.6 239.9,603.5 246.6,581 253.6,567.2 260.7,569.5 267.2,548.9 273.6,530.8 280.5,538 287.2,542.6 293.9,549.4 300.8,560.7 307.7,567 313.8,548.9 320.7,538 327.6,522.6 336.7,542.6 343.4,506.3 349.8,510.8 356.7,520.4 363.4,513.5 369.7,495.4 377,511.4 383.7,504.5 390.5,495.2 397.1,488.4 403.6,481.9 410.5,448.3 424.1,471 430.8,388.1 444.1,397.2 457.7,412.6 464.4,385.4 471.1,397.2 478,370 526.9,414.7 533.6,508.8 540.5,491.1 547.2,484.3 554.1,482.5 560.8,461.7 567.5,463.8 580.8,419 587.5,452.6 600.7,443.5 607.6,463.8 614.3,470.7 621,463.8 627.9,435 634.6,428.1 641.6,416.8 650.1,399.6 656.9,370.1 663.3,338.8 670.2,338.8 677.4,341.2 684.1,331.8 697.4,361 704.3,383.5" fill="none" stroke="#8c8ef0" stroke-width="2.2" stroke-linejoin="round"/><circle cx="95.7" cy="658.7" r="4.2" fill="#3d8cf0"/><circle cx="103.5" cy="661.6" r="4.2" fill="#3d8cf0"/><circle cx="110" cy="661.6" r="4.2" fill="#3d8cf0"/><circle cx="117" cy="656.7" r="4.2" fill="#3d8cf0"/><circle cx="123.5" cy="623.4" r="4.2" fill="#3d8cf0"/><circle cx="130.3" cy="598.2" r="4.2" fill="#3d8cf0"/><circle cx="137.1" cy="611.8" r="4.2" fill="#3d8cf0"/><circle cx="150.6" cy="628.2" r="4.2" fill="#3d8cf0"/><circle cx="157.4" cy="618.5" r="4.2" fill="#3d8cf0"/><circle cx="163.6" cy="616.8" r="4.2" fill="#3d8cf0"/><circle cx="170.8" cy="598.6" r="4.2" fill="#3d8cf0"/><circle cx="178.9" cy="587.4" r="4.2" fill="#3d8cf0"/><circle cx="186.1" cy="589.4" r="4.2" fill="#3d8cf0"/><circle cx="213.1" cy="587.6" r="4.2" fill="#3d8cf0"/><circle cx="219.6" cy="634.4" r="4.2" fill="#3d8cf0"/><circle cx="226.6" cy="634.4" r="4.2" fill="#3d8cf0"/><circle cx="233.4" cy="614.6" r="4.2" fill="#3d8cf0"/><circle cx="239.9" cy="603.5" r="4.2" fill="#3d8cf0"/><circle cx="246.6" cy="581" r="4.2" fill="#3d8cf0"/><circle cx="253.6" cy="567.2" r="4.2" fill="#3d8cf0"/><circle cx="260.7" cy="569.5" r="4.2" fill="#3d8cf0"/><circle cx="267.2" cy="548.9" r="4.2" fill="#3d8cf0"/><circle cx="273.6" cy="530.8" r="4.2" fill="#3d8cf0"/><circle cx="280.5" cy="538" r="4.2" fill="#3d8cf0"/><circle cx="287.2" cy="542.6" r="4.2" fill="#3d8cf0"/><circle cx="293.9" cy="549.4" r="4.2" fill="#3d8cf0"/><circle cx="300.8" cy="560.7" r="4.2" fill="#3d8cf0"/><circle cx="307.7" cy="567" r="4.2" fill="#3d8cf0"/><circle cx="313.8" cy="548.9" r="4.2" fill="#3d8cf0"/><circle cx="320.7" cy="538" r="4.2" fill="#3d8cf0"/><circle cx="327.6" cy="522.6" r="4.2" fill="#3d8cf0"/><circle cx="336.7" cy="542.6" r="4.2" fill="#3d8cf0"/><circle cx="343.4" cy="506.3" r="4.2" fill="#3d8cf0"/><circle cx="349.8" cy="510.8" r="4.2" fill="#3d8cf0"/><circle cx="356.7" cy="520.4" r="4.2" fill="#3d8cf0"/><circle cx="363.4" cy="513.5" r="4.2" fill="#3d8cf0"/><circle cx="369.7" cy="495.4" r="4.2" fill="#3d8cf0"/><circle cx="377" cy="511.4" r="4.2" fill="#3d8cf0"/><circle cx="383.7" cy="504.5" r="4.2" fill="#3d8cf0"/><circle cx="390.5" cy="495.2" r="4.2" fill="#3d8cf0"/><circle cx="397.1" cy="488.4" r="4.2" fill="#3d8cf0"/><circle cx="403.6" cy="481.9" r="4.2" fill="#3d8cf0"/><circle cx="410.5" cy="448.3" r="4.2" fill="#3d8cf0"/><circle cx="424.1" cy="471" r="4.2" fill="#3d8cf0"/><circle cx="430.8" cy="388.1" r="4.2" fill="#3d8cf0"/><circle cx="444.1" cy="397.2" r="4.2" fill="#3d8cf0"/><circle cx="457.7" cy="412.6" r="4.2" fill="#3d8cf0"/><circle cx="464.4" cy="385.4" r="4.2" fill="#3d8cf0"/><circle cx="471.1" cy="397.2" r="4.2" fill="#3d8cf0"/><circle cx="478" cy="370" r="4.2" fill="#3d8cf0"/><circle cx="526.9" cy="414.7" r="4.2" fill="#3d8cf0"/><circle cx="533.6" cy="508.8" r="4.2" fill="#3d8cf0"/><circle cx="540.5" cy="491.1" r="4.2" fill="#3d8cf0"/><circle cx="547.2" cy="484.3" r="4.2" fill="#3d8cf0"/><circle cx="554.1" cy="482.5" r="4.2" fill="#3d8cf0"/><circle cx="560.8" cy="461.7" r="4.2" fill="#3d8cf0"/><circle cx="567.5" cy="463.8" r="4.2" fill="#3d8cf0"/><circle cx="580.8" cy="419" r="4.2" fill="#3d8cf0"/><circle cx="587.5" cy="452.6" r="4.2" fill="#3d8cf0"/><circle cx="600.7" cy="443.5" r="4.2" fill="#3d8cf0"/><circle cx="607.6" cy="463.8" r="4.2" fill="#3d8cf0"/><circle cx="614.3" cy="470.7" r="4.2" fill="#3d8cf0"/><circle cx="621" cy="463.8" r="4.2" fill="#3d8cf0"/><circle cx="627.9" cy="435" r="4.2" fill="#3d8cf0"/><circle cx="634.6" cy="428.1" r="4.2" fill="#3d8cf0"/><circle cx="641.6" cy="416.8" r="4.2" fill="#3d8cf0"/><circle cx="650.1" cy="399.6" r="4.2" fill="#3d8cf0"/><circle cx="656.9" cy="370.1" r="4.2" fill="#3d8cf0"/><circle cx="663.3" cy="338.8" r="4.2" fill="#3d8cf0"/><circle cx="670.2" cy="338.8" r="4.2" fill="#3d8cf0"/><circle cx="677.4" cy="341.2" r="4.2" fill="#3d8cf0"/><circle cx="684.1" cy="331.8" r="4.2" fill="#3d8cf0"/><circle cx="697.4" cy="361" r="4.2" fill="#3d8cf0"/><circle cx="704.3" cy="383.5" r="4.2" fill="#3d8cf0"/>
</svg>
<div class="a pill"></div>
<div class="a" style="left:333.00px;top:272.80px;font-size:24.5px;line-height:31px;color:#fff;font-weight:500;letter-spacing:1.07px;word-spacing:0.00px;font-family:'Liberation Sans','Noto Sans CJK KR',sans-serif;-webkit-text-stroke:0.3px #fff;"><span style="position:relative;top:-1.5px;-webkit-text-stroke:0.9px #fff">VS</span> <span style="font-size:28.17px;position:relative;top:0px">가격비교</span></div>
<div class="yl" style="top:324.6px">40<span class="h">억</span></div><div class="yl" style="top:472.6px">30<span class="h">억</span></div><div class="yl" style="top:620.0px">20<span class="h">억</span></div><div class="yl" style="top:768.6px">10<span class="h">억</span></div><div class="yl" style="top:914.0px">0</div><div class="yr" style="top:295.0px">120<span class="h">건</span></div><div class="yr" style="top:399.0px">100<span class="h">건</span></div><div class="yr" style="top:502.0px">80<span class="h">건</span></div><div class="yr" style="top:605.0px">60<span class="h">건</span></div><div class="yr" style="top:708.5px">40<span class="h">건</span></div><div class="yr" style="top:812.0px">20<span class="h">건</span></div><div class="yr" style="top:914.0px">0</div><div class="xl" style="left:52.2px">17<span class="h">년</span></div><div class="xl" style="left:134.3px">18<span class="h">년</span></div><div class="xl" style="left:216.3px">19<span class="h">년</span></div><div class="xl" style="left:298.4px">20<span class="h">년</span></div><div class="xl" style="left:380.4px">21<span class="h">년</span></div><div class="xl" style="left:462.5px">22<span class="h">년</span></div><div class="xl" style="left:544.5px">23<span class="h">년</span></div><div class="xl" style="left:626.6px">24<span class="h">년</span></div>
</body></html>
